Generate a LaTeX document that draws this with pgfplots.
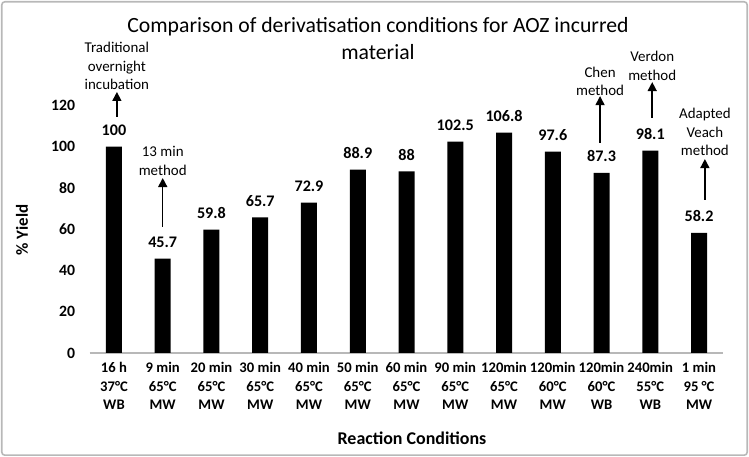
\documentclass[border=0pt]{standalone}
\usepackage{fontspec}
\setmainfont{Carlito}
\usepackage{pgfplots}
\pgfplotsset{compat=1.18}
\usetikzlibrary{arrows.meta}
\begin{document}
\begin{tikzpicture}[x=1bp,y=1bp]
\path[use as bounding box] (-89.6,-104) rectangle (659.4,353);
\draw[color=black!28, line width=1.6bp, rounded corners=3bp] (-87.8,-102.2) rectangle (657.6,351.2);
\begin{axis}[
  at={(0,0)}, anchor=south west,
  scale only axis, width=633.8bp, height=247.6bp,
  xmin=-0.5, xmax=12.5, ymin=0, ymax=120,
  ybar, bar width=16bp,
  axis lines=left, axis line style={-},
  x axis line style={draw=black!28, line width=1.2bp},
  y axis line style={draw=none},
  major tick length=0pt, tick style={draw=none},
  clip=false,
  /pgf/number format/assume math mode=true,
  ytick={0,20,40,60,80,100,120},
  yticklabel style={font=\bfseries\fontsize{15.8}{18}\selectfont, xshift=-11bp},
  xtick={0,1,2,3,4,5,6,7,8,9,10,11,12},
  xticklabels={{16 h\\37°C\\WB},{9 min\\65°C\\MW},{20 min\\65°C\\MW},{30 min\\65°C\\MW},{40 min\\65°C\\MW},{50 min\\65°C\\MW},{60 min\\65°C\\MW},{90 min\\65°C\\MW},{120min\\65°C\\MW},{120min\\60°C\\MW},{120min\\60°C\\WB},{240min\\55°C\\WB},{1 min\\95 °C\\MW}},
  xticklabel style={font=\bfseries\fontsize{14.7}{18.5}\selectfont, align=center, anchor=north, yshift=-6bp},
  nodes near coords,
  every node near coord/.append style={font=\bfseries\fontsize{16.2}{18}\selectfont, anchor=south, inner sep=0pt, yshift=11bp},
]
\addplot[fill=black, draw=none] coordinates {
 (0,100) (1,45.7) (2,59.8) (3,65.7) (4,72.9) (5,88.9) (6,88) (7,102.5) (8,106.8) (9,97.6) (10,87.3) (11,98.1) (12,58.2)};

\tikzset{annot/.style={font=\fontsize{15}{18.3}\selectfont, align=center, inner sep=0pt},
         arr/.style={line width=1.5bp, -{Triangle[length=9bp,width=9bp]}}}
\node[annot] at (axis cs:0.06,139.1) {Traditional\\overnight\\incubation};
\draw[arr] (axis cs:0.06,114.5) -- (axis cs:0.06,126.5);
\node[annot] at (axis cs:1.0,93.1) {13 min\\method};
\draw[arr] (axis cs:1.0,61.1) -- (axis cs:1.0,84.8);
\node[annot] at (axis cs:9.97,131.6) {Chen\\method};
\draw[arr] (axis cs:9.97,101.8) -- (axis cs:9.97,124.5);
\node[annot] at (axis cs:11.04,139.1) {Verdon\\method};
\draw[arr] (axis cs:11.04,113.9) -- (axis cs:11.04,131.3);
\node[annot] at (axis cs:12.12,107.1) {Adapted\\Veach\\method};
\draw[arr] (axis cs:12.12,74.2) -- (axis cs:12.12,94.0);
\end{axis}
\node[font=\fontsize{21.8}{27}\selectfont, align=center] at (288.4,314.5) {Comparison of derivatisation conditions for AOZ incurred\\material};
\node[font=\bfseries\fontsize{18}{20}\selectfont] at (322.4,-85) {Reaction Conditions};
\node[font=\bfseries\fontsize{17}{20}\selectfont, rotate=90] at (-67.6,123) {\% Yield};
\end{tikzpicture}
\end{document}
